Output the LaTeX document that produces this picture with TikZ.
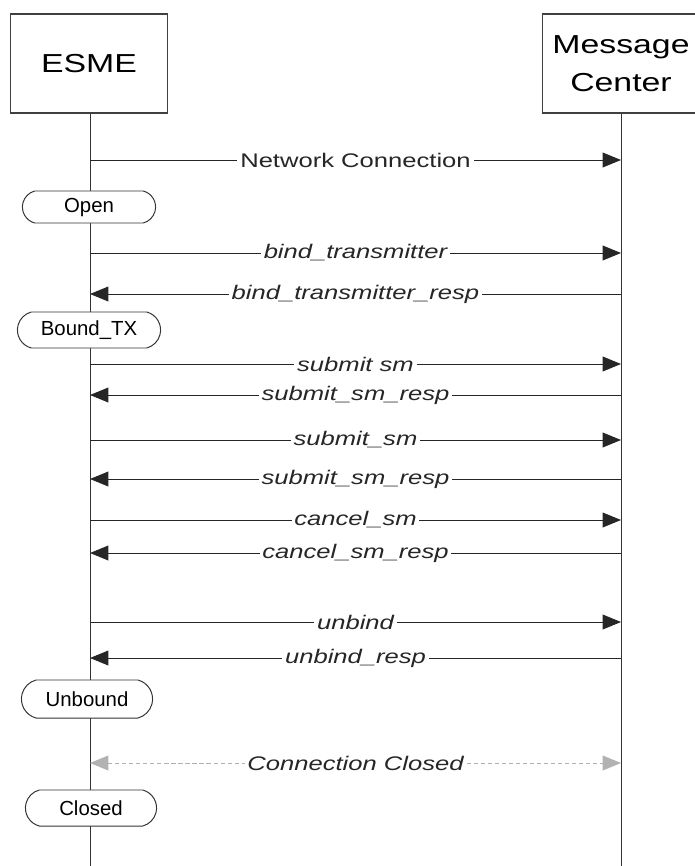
\documentclass[tikz,border=0pt]{standalone}
\usepackage{fontspec}
\setmainfont{Liberation Sans}
\newfontfamily\widesf{Liberation Sans}[FakeStretch=1.3]
\usetikzlibrary{arrows.meta,shapes.misc}

\begin{document}
\begin{tikzpicture}[x=0.025cm,y=-0.025cm]
\tikzset{edge/.style = {-{Triangle[length=13pt,width=10.5pt]}, draw=black!85, line width=0.7pt}}
\tikzset{closing/.style = {{Triangle[length=13pt,width=10.5pt]}-{Triangle[length=13pt,width=10.5pt]}, draw=black!30, line width=0.7pt, dash pattern=on 3pt off 2pt}}
\tikzset{msg/.style = {fill=white, inner xsep=2pt, inner ysep=1pt, text=black!85, font=\widesf\fontsize{14}{16}\selectfont\itshape}}
\tikzset{entity/.style = {draw=black!75, line width=0.8pt, fill=white, minimum width=3.925cm, minimum height=2.475cm, align=center, font=\widesf\fontsize{18.5}{27}\selectfont}}
\tikzset{statebox/.style = {rounded rectangle, rounded rectangle arc length=150, draw=black!80, line width=0.7pt, fill=white, inner xsep=6pt, minimum height=0.8cm, minimum width=3.75cm, font=\fontsize{14.5}{16}\selectfont}}
\useasboundingbox (0,0) rectangle (695,866);
% lifelines
\node [entity] at (89,63.5)(esme) {ESME};
\node [entity] at (621,63.5)(mc) {Message\\Center};
\coordinate (esmeEnd) at (90,866);
\coordinate (mcEnd) at (621,866);
\draw [black!80, line width=0.7pt] (esme.south -| esmeEnd) -- (esmeEnd);
\draw [black!80, line width=0.7pt] (mc.south) -- (mcEnd);
% states
\node [statebox] at (89,207)(open) {Open};
\node [statebox, minimum width=4cm, minimum height=0.9cm] at (89,330)(boundtx) {Bound\_TX};
\node [statebox, minimum height=0.95cm, minimum width=3.7cm] at (87,699)(unbound) {Unbound};
\node [statebox, minimum height=0.9cm, minimum width=3.7cm] at (91,808)(closed) {Closed};
% messages
\coordinate (l1) at (90,160); \coordinate (r1) at (621,160);
\coordinate (l2) at (90,253); \coordinate (r2) at (621,253);
\coordinate (l3) at (90,294); \coordinate (r3) at (621,294);
\coordinate (l4) at (90,364); \coordinate (r4) at (621,364);
\coordinate (l5) at (90,395); \coordinate (r5) at (621,395);
\coordinate (l6) at (90,440); \coordinate (r6) at (621,440);
\coordinate (l7) at (90,479); \coordinate (r7) at (621,479);
\coordinate (l8) at (90,520); \coordinate (r8) at (621,520);
\coordinate (l9) at (90,553); \coordinate (r9) at (621,553);
\coordinate (l10) at (90,622); \coordinate (r10) at (621,622);
\coordinate (l11) at (90,658); \coordinate (r11) at (621,658);
\coordinate (l12) at (90,763); \coordinate (r12) at (621,763);
\draw [edge] (l1) -- node [msg, font=\widesf\fontsize{14}{16}\selectfont] {Network Connection} (r1);
\draw [edge] (l2) -- node [msg] {bind\_transmitter} (r2);
\draw [edge] (r3) -- node [msg] {bind\_transmitter\_resp} (l3);
\draw [edge] (l4) -- node [msg] {submit sm} (r4);
\draw [edge] (r5) -- node [msg] {submit\_sm\_resp} (l5);
\draw [edge] (l6) -- node [msg] {submit\_sm} (r6);
\draw [edge] (r7) -- node [msg] {submit\_sm\_resp} (l7);
\draw [edge] (l8) -- node [msg] {cancel\_sm} (r8);
\draw [edge] (r9) -- node [msg] {cancel\_sm\_resp} (l9);
\draw [edge] (l10) -- node [msg] {unbind} (r10);
\draw [edge] (r11) -- node [msg] {unbind\_resp} (l11);
\draw [closing] (l12) -- node [msg] {Connection Closed} (r12);
\end{tikzpicture}
\end{document}
